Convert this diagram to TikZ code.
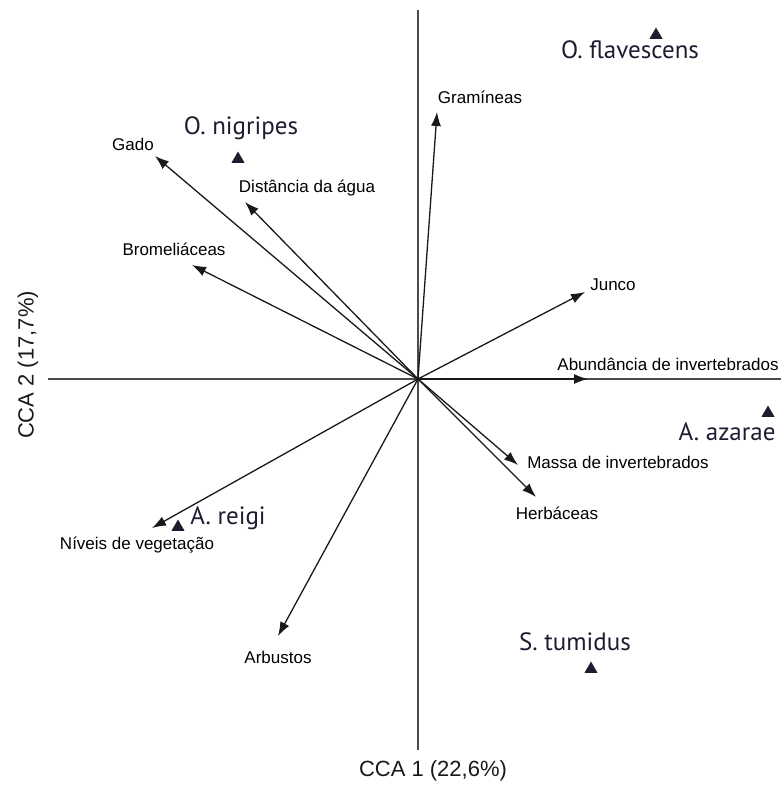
\documentclass[tikz,border=0pt]{standalone}
\usepackage{fontspec}
\setmainfont{Liberation Sans}
\newfontfamily\spfont{PT Sans}
\usepackage{tikz}
\usetikzlibrary{arrows.meta}
\usetikzlibrary{positioning}
\usetikzlibrary{shapes.geometric}

\definecolor{spcolor}{RGB}{30,28,48}

\begin{document}
\begin{tikzpicture}
    [x=1pt,y=-1pt,
axisline/.style={draw=black!70, line width=1.5pt},
vector/.style={draw=black!90, line width=1.3pt, -{Latex[length=14pt,width=10pt]}},
varlabel/.style={font=\fontsize{17}{17}\selectfont, text=black, inner sep=0pt},
axislabel/.style={font=\fontsize{22}{22}\selectfont, text=black!90, inner sep=0pt},
species/.style={font=\spfont\fontsize{25}{25}\selectfont, text=spcolor, inner sep=0pt},
spmark/.style={regular polygon, regular polygon sides=3, fill=spcolor, inner sep=0pt, minimum size=15pt}
]

\useasboundingbox (0,0) rectangle (781,787);

% axes
\coordinate (o) at (418,379);
\coordinate (top) at (418,10);
\coordinate (bottom) at (418,750);
\coordinate (left) at (48,379);
\coordinate (right) at (781,379);
\draw[axisline] (top) -- (bottom);
\draw[axisline] (left) -- (right);

\node[axislabel](cca1) at (433,771){CCA 1 (22,6\%)};
\node[axislabel,rotate=90](cca2) at (28,365){CCA 2 (17,7\%)};

% environmental variables
\coordinate (gram) at (437,112);
\coordinate (junco) at (585,292);
\coordinate (abund) at (588,379);
\coordinate (massa) at (518,465);
\coordinate (herb) at (536,497);
\coordinate (arb) at (278,636);
\coordinate (niveis) at (152,528);
\coordinate (brom) at (192,265);
\coordinate (gado) at (155,156);
\coordinate (dist) at (245,202);

\draw[vector] (o) -- (gram);
\draw[vector] (o) -- (junco);
\draw[vector] (o) -- (abund);
\draw[vector] (o) -- (massa);
\draw[vector] (o) -- (herb);
\draw[vector] (o) -- (arb);
\draw[vector] (o) -- (niveis);
\draw[vector] (o) -- (brom);
\draw[vector] (o) -- (gado);
\draw[vector] (o) -- (dist);

\node[varlabel](gramlabel) at (480,97){Gramíneas};
\node[varlabel](juncolabel) at (613,285){Junco};
\node[varlabel](abundlabel) at (668,364){Abundância de invertebrados};
\node[varlabel](massalabel) at (618,462){Massa de invertebrados};
\node[varlabel](herblabel) at (557,513){Herbáceas};
\node[varlabel](arblabel) at (278,657){Arbustos};
\node[varlabel](niveislabel) at (137,545){Níveis de vegetação};
\node[varlabel](bromlabel) at (174,249){Bromeliáceas};
\node[varlabel](gadolabel) at (133,144){Gado};
\node[varlabel](distlabel) at (307,188){Distância da água};

% species
\node[spmark](oflav) at (656,35){};
\node[spmark](onig) at (238,159){};
\node[spmark](aaza) at (768,413){};
\node[spmark](arei) at (178,527){};
\node[spmark](stum) at (591,669){};

\node[species](oflavlabel) at (630,50){O. flavescens};
\node[species](oniglabel) at (241,128){O. nigripes};
\node[species](aazalabel) at (727,432){A. azarae};
\node[species](areilabel) at (228,518){A. reigi};
\node[species](stumlabel) at (575,642){S. tumidus};

\end{tikzpicture}
\end{document}
